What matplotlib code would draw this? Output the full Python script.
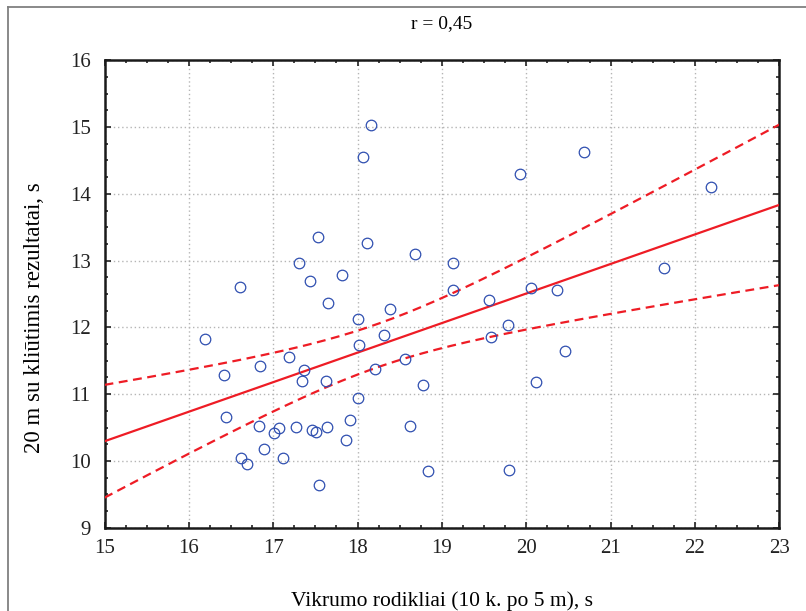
import numpy as np
import matplotlib
matplotlib.use("Agg")
import matplotlib.pyplot as plt
from matplotlib.ticker import MultipleLocator
from matplotlib.lines import Line2D

plt.rcParams["font.family"] = ["Liberation Serif", "DejaVu Serif"]

# agility test (10 x 5 m) vs 20 m hurdle run, seconds
agility = [18.16, 18.06, 20.68, 19.93, 22.19, 17.53, 18.11, 18.68, 17.31, 19.13,
           17.43, 17.82, 16.61, 19.13, 19.56, 20.06, 20.36, 21.63, 19.78, 19.58,
           18.56, 20.46, 18.78, 20.11, 18.62, 18.84, 19.80, 17.65, 18.39, 18.01,
           16.19, 18.31, 18.02, 17.19, 16.84, 16.42, 17.36, 17.34, 17.62, 18.21,
           18.01, 16.44, 17.91, 16.83, 17.07, 17.01, 17.27, 17.46, 17.51, 17.64,
           17.86, 16.89, 16.62, 16.69, 17.11, 17.54]
hurdles = [15.03, 14.55, 14.62, 14.30, 14.11, 13.35, 13.26, 13.10, 12.97, 12.97,
           12.70, 12.78, 12.60, 12.56, 12.41, 12.59, 12.56, 12.89, 12.03, 11.85,
           11.52, 11.64, 11.13, 11.18, 10.52, 9.85, 9.87, 12.36, 12.27, 12.12,
           11.83, 11.89, 11.73, 11.55, 11.42, 11.29, 11.36, 11.20, 11.20, 11.37,
           10.94, 10.66, 10.62, 10.53, 10.50, 10.42, 10.51, 10.46, 10.43, 10.51,
           10.32, 10.18, 10.05, 9.96, 10.05, 9.64]
r_text = "r = 0,45"

x = np.array(agility)
y = np.array(hurdles)
n = len(x)

# least squares line + 95% confidence band for the mean
b1, b0 = np.polyfit(x, y, 1)
resid = y - (b0 + b1 * x)
s = np.sqrt(np.sum(resid ** 2) / (n - 2))
t_crit = 2.005  # t(0.975, df=54)
xf = np.linspace(15, 23, 200)
yf = b0 + b1 * xf
half = t_crit * s * np.sqrt(1 / n + (xf - x.mean()) ** 2 / np.sum((x - x.mean()) ** 2))

fig = plt.figure(figsize=(8.06, 6.11), dpi=100)
ax = fig.add_axes([0.1297, 0.1363, 0.8372, 0.765])

red = "#ee1c25"
ax.plot(xf, yf, color=red, lw=1.6, zorder=3)
ax.plot(xf, yf + half, color=red, lw=1.6, ls=(0, (4, 2.5)), zorder=3)
ax.plot(xf, yf - half, color=red, lw=1.6, ls=(0, (4, 2.5)), zorder=3)
ax.plot(x, y, "o", ms=7.6, mfc="none", mec="#2f4fb0", mew=0.9, zorder=4)

ax.set_xlim(15, 23)
ax.set_ylim(9, 16)
ax.xaxis.set_major_locator(MultipleLocator(1))
ax.xaxis.set_minor_locator(MultipleLocator(0.25))
ax.yaxis.set_major_locator(MultipleLocator(1))
ax.yaxis.set_minor_locator(MultipleLocator(0.25))
ax.tick_params(which="both", direction="in", top=True, right=True,
               labelsize=15, colors="#222222", width=1.2)
ax.tick_params(which="major", length=4, pad=8)
ax.tick_params(which="minor", length=2.5)
ax.tick_params(axis="y", which="major", pad=10)
ax.grid(True, which="major", color="#b5b5b5", ls=(0, (1, 2)), lw=1)
for sp in ax.spines.values():
    sp.set_linewidth(1.8)
    sp.set_color("#1a1a1a")

ax.set_xlabel("Vikrumo rodikliai (10 k. po 5 m), s", fontsize=15.5, labelpad=24)
ax.set_ylabel("20 m su kliūtimis rezultatai, s", fontsize=16.5)
ax.yaxis.set_label_coords(-0.088, 0.45)
ax.set_title(r_text, fontsize=14, pad=23)

# outer frame (top and left edges)
fig.add_artist(Line2D([0.0099, 0.0099], [0, 0.9885], color="#808080", lw=1.3))
fig.add_artist(Line2D([0.0099, 1.0], [0.9885, 0.9885], color="#808080", lw=1.3))

fig.savefig("out.png", dpi=100)
